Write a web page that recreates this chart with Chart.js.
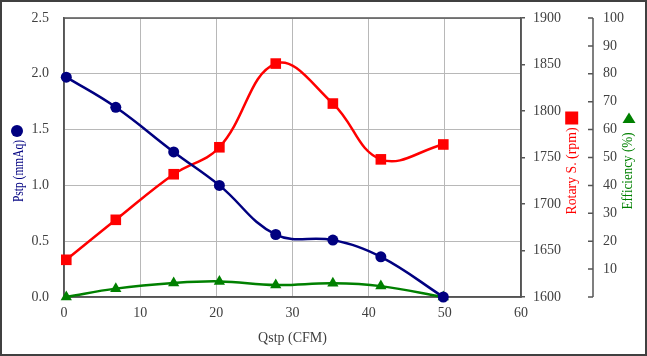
<!DOCTYPE html>
<html><head><meta charset="utf-8">
<script src="https://cdn.jsdelivr.net/npm/chart.js@4/dist/chart.umd.min.js"></script>
<style>html,body{margin:0;padding:0;background:#fff;overflow:hidden}#wrap{width:647px;height:356px}</style>
</head><body><div id="wrap"><canvas id="c" width="647" height="356"></canvas></div>
<script>
const qstp = [0.3, 6.8, 14.4, 20.4, 27.8, 35.3, 41.6, 49.8];
const pstp = [1.97, 1.70, 1.30, 1.00, 0.56, 0.51, 0.36, 0.00];
const rpm  = [1640, 1683, 1732, 1761, 1851, 1808, 1748, 1764];
const eff  = [0.0, 3.0, 5.0, 5.6, 4.3, 4.9, 3.9, 0.0];
const xTicks = [0, 10, 20, 30, 40, 50, 60];
const pstpTicks = [0, 0.5, 1.0, 1.5, 2.0, 2.5];
const rpmTicks = [1600, 1650, 1700, 1750, 1800, 1850, 1900];
const effTicks = [0, 10, 20, 30, 40, 50, 60, 70, 80, 90, 100];
const xTitle = 'Qstp (CFM)';
const pstpTitle = 'Pstp (mmAq)';
const rpmTitle = 'Rotary S. (rpm)';
const effTitle = 'Efficiency (%)';

const SERIF = '"Liberation Serif", "Times New Roman", serif';
const TICKC = '#404040';
const NAVY = '#000080', RED = '#ff0000', GREEN = '#008000';

const pts = (ys) => qstp.map((x, i) => ({x, y: ys[i]}));
const fixTicks = (arr) => (s) => { s.ticks = arr.map(v => ({value: v})); };
const fitV = (w) => (s) => { s.width = w; s.paddingTop = 0; s.paddingBottom = 0; };

function marker(ctx, kind, x, y, size, color) {
  ctx.save(); ctx.fillStyle = color; ctx.beginPath();
  if (kind === 'circle') { ctx.arc(x, y, size / 2, 0, Math.PI * 2); }
  else if (kind === 'rect') { ctx.rect(x - size / 2, y - size / 2, size, size); }
  else { ctx.moveTo(x, y - size * 0.42); ctx.lineTo(x + size / 2, y + size * 0.38); ctx.lineTo(x - size / 2, y + size * 0.38); ctx.closePath(); }
  ctx.fill(); ctx.restore();
}
// vertical title (reads bottom to top), squeezed to length `len`, with a marker above it
function vTitle(ctx, text, len, color, cx, cy, kind, msize, gap, mx) {
  ctx.save();
  ctx.font = '14px ' + SERIF;
  const w = ctx.measureText(text).width;
  const k = Math.min(1, len / w);
  ctx.translate(cx, cy); ctx.rotate(-Math.PI / 2); ctx.scale(k, 1);
  ctx.textAlign = 'center'; ctx.textBaseline = 'middle'; ctx.fillStyle = color;
  ctx.fillText(text, 0, 0);
  ctx.restore();
  marker(ctx, kind, mx, cy - (w * k) / 2 - gap - msize / 2, msize, color);
}

const deco = {
  id: 'deco',
  beforeDraw(chart) {
    const ctx = chart.ctx; ctx.save(); ctx.fillStyle = '#fff'; ctx.fillRect(0, 0, chart.width, chart.height); ctx.restore();
  },
  beforeDatasetsDraw(chart) {
    const {ctx, chartArea: a, scales} = chart;
    ctx.save();
    ctx.strokeStyle = '#555'; ctx.lineWidth = 1.5;
    ctx.strokeRect(a.left, a.top, a.right - a.left, a.bottom - a.top);
    const s = scales.y2; const ax = s.left;
    ctx.beginPath();
    ctx.moveTo(ax, s.getPixelForValue(effTicks[effTicks.length - 1]));
    ctx.lineTo(ax, s.getPixelForValue(effTicks[0]));
    effTicks.forEach(v => { const y = s.getPixelForValue(v); ctx.moveTo(ax - 5, y); ctx.lineTo(ax, y); });
    ctx.stroke();
    ctx.restore();
    const cy = (a.top + a.bottom) / 2 + 13.5;
    vTitle(ctx, pstpTitle, 62, NAVY, scales.y.left + 19, cy, 'circle', 12, 3, scales.y.left + 17);
    vTitle(ctx, rpmTitle, 87, RED, scales.y1.right - 20.5, cy, 'rect', 13, 3, scales.y1.right - 21.3);
    vTitle(ctx, effTitle, 77, GREEN, scales.y2.left + 35.3, cy, 'tri', 13, 8, scales.y2.left + 36);
  },
  afterDraw(chart) {
    const ctx = chart.ctx; ctx.save(); ctx.strokeStyle = '#404040'; ctx.lineWidth = 2;
    ctx.strokeRect(1, 1, chart.width - 2, chart.height - 2); ctx.restore();
  }
};

new Chart(document.getElementById('c'), {
  type: 'line',
  data: {
    datasets: [
      { label: pstpTitle, data: pts(pstp), yAxisID: 'y', borderColor: NAVY, backgroundColor: NAVY,
        borderWidth: 2.5, pointStyle: 'circle', pointRadius: 5.5, pointBorderWidth: 0, tension: 0.4, clip: false },
      { label: rpmTitle, data: pts(rpm), yAxisID: 'y1', borderColor: RED, backgroundColor: RED,
        borderWidth: 2.5, pointStyle: 'rect', pointRadius: 7.5, pointBorderWidth: 0, tension: 0.4, clip: false },
      { label: effTitle, data: pts(eff), yAxisID: 'y2', borderColor: GREEN, backgroundColor: GREEN,
        borderWidth: 2.5, pointStyle: 'triangle', pointRadius: 6.5, pointBorderWidth: 0, tension: 0.4, clip: false }
    ]
  },
  options: {
    responsive: false, animation: false, devicePixelRatio: 1,
    layout: { padding: { left: 0, right: 4, top: 18, bottom: 8 } },
    plugins: { legend: { display: false }, tooltip: { enabled: false } },
    scales: {
      x: {
        type: 'linear', min: 0, max: 60, afterBuildTicks: fixTicks(xTicks),
        afterFit: (s) => { s.height = 356 - 8 - 297; },
        grid: { color: '#b8b8b8', lineWidth: 1, drawTicks: false },
        border: { color: '#555', width: 1.5 },
        ticks: { font: { family: SERIF, size: 14 }, color: TICKC, padding: 8 },
        title: { display: true, text: xTitle, font: { family: SERIF, size: 14 }, color: TICKC, padding: { top: 0, bottom: 1 } }
      },
      y: {
        position: 'left', min: 0, max: 2.5, afterBuildTicks: fixTicks(pstpTicks),
        afterFit: fitV(64),
        grid: { color: '#b8b8b8', lineWidth: 1, drawTicks: false },
        border: { color: '#555', width: 1.5 },
        ticks: { font: { family: SERIF, size: 14 }, color: TICKC, padding: 15, callback: (v) => Number(v).toFixed(1) }
      },
      y1: {
        position: 'right', min: 1600, max: 1900, afterBuildTicks: fixTicks(rpmTicks),
        afterFit: fitV(72),
        grid: { drawOnChartArea: false, drawTicks: true, tickLength: 4, color: '#555', lineWidth: 1.5 },
        border: { color: '#555', width: 1.5 },
        ticks: { font: { family: SERIF, size: 14 }, color: TICKC, padding: 8, callback: (v) => String(v) }
      },
      y2: {
        position: 'right', min: 0, max: 100, afterBuildTicks: fixTicks(effTicks),
        afterFit: fitV(50),
        grid: { drawOnChartArea: false, drawTicks: false },
        border: { display: false },
        ticks: { font: { family: SERIF, size: 14 }, color: TICKC, padding: 10, callback: (v) => v === 0 ? '' : String(v) }
      }
    }
  },
  plugins: [deco]
});
</script>
</body></html>
